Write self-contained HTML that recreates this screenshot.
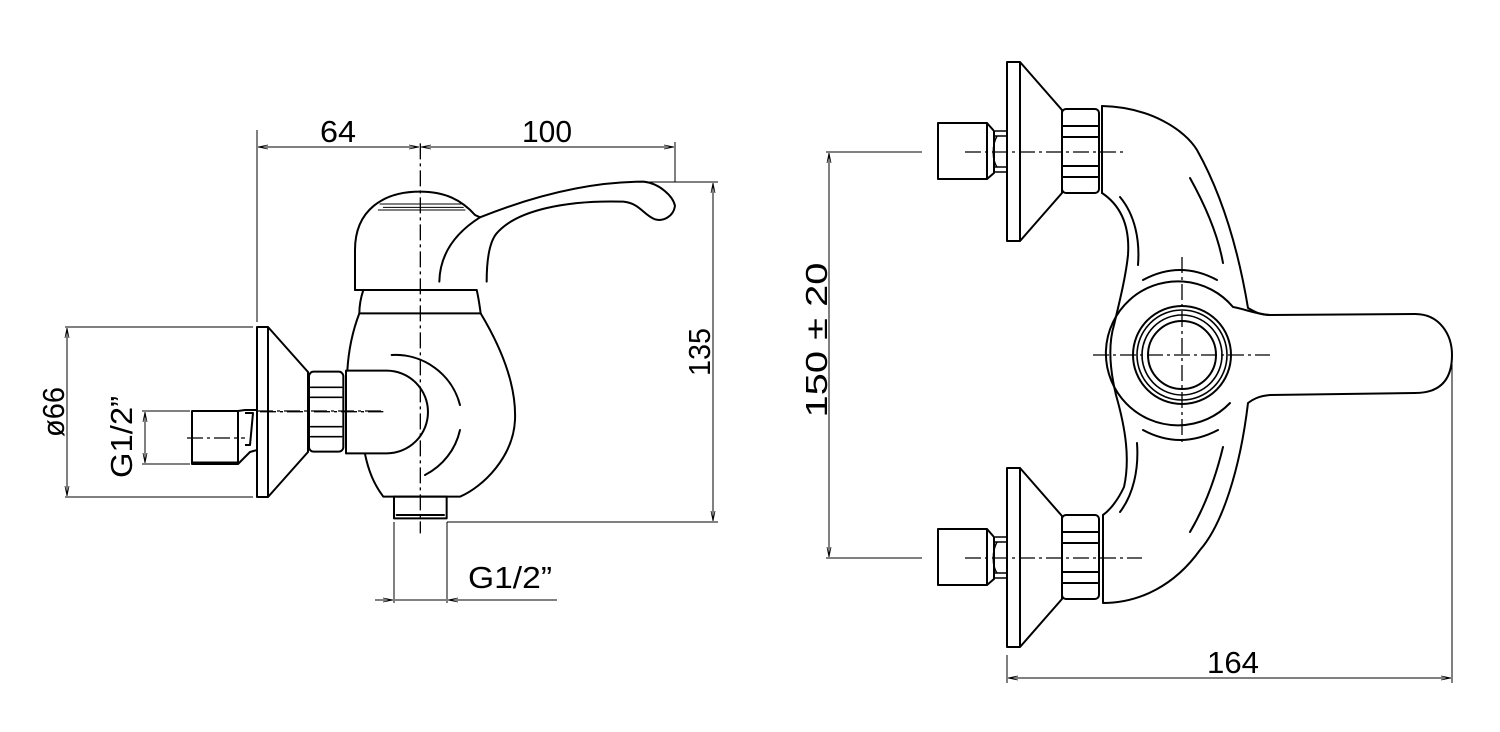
<!DOCTYPE html>
<html><head><meta charset="utf-8"><style>
html,body{margin:0;padding:0;background:#fff;width:1500px;height:732px;overflow:hidden}
svg{display:block}
text{font-family:"Liberation Sans",sans-serif;fill:#000}
</style></head><body>
<svg width="1500" height="732" viewBox="0 0 1500 732" xmlns="http://www.w3.org/2000/svg">
<defs>
<marker id="a" markerWidth="10" markerHeight="6" refX="10" refY="3" orient="auto-start-reverse" markerUnits="userSpaceOnUse">
<path d="M0,1 L10,3 L0,5" fill="none" stroke="#000" stroke-width="0.8"/></marker>
</defs>
<g fill="none" stroke="#000" stroke-width="1">
<!-- LEFT VIEW DIMENSIONS -->
<line x1="257" y1="130" x2="257" y2="322"/>
<line x1="675" y1="142" x2="675" y2="182"/>
<line x1="258" y1="147" x2="419" y2="147" marker-start="url(#a)" marker-end="url(#a)"/>
<line x1="421" y1="147" x2="674" y2="147" marker-start="url(#a)" marker-end="url(#a)"/>
<line x1="643" y1="182" x2="718" y2="182"/>
<line x1="447" y1="522" x2="718" y2="522"/>
<line x1="713" y1="183" x2="713" y2="521" marker-start="url(#a)" marker-end="url(#a)"/>
<line x1="65" y1="327" x2="253" y2="327"/>
<line x1="65" y1="497" x2="253" y2="497"/>
<line x1="67" y1="328" x2="67" y2="496" marker-start="url(#a)" marker-end="url(#a)"/>
<line x1="142" y1="411" x2="190" y2="411"/>
<line x1="142" y1="464" x2="190" y2="464"/>
<line x1="145" y1="412" x2="145" y2="463" marker-start="url(#a)" marker-end="url(#a)"/>
<line x1="394" y1="522" x2="394" y2="603"/>
<line x1="447" y1="522" x2="447" y2="603"/>
<line x1="375" y1="600" x2="393" y2="600" marker-end="url(#a)"/>
<line x1="395" y1="600" x2="446" y2="600"/>
<line x1="557" y1="600" x2="448" y2="600" marker-end="url(#a)"/>
<!-- RIGHT VIEW DIMENSIONS -->
<line x1="826" y1="152" x2="922" y2="152"/>
<line x1="826" y1="558" x2="922" y2="558"/>
<line x1="829" y1="153" x2="829" y2="557" marker-start="url(#a)" marker-end="url(#a)"/>
<line x1="1007" y1="655" x2="1007" y2="683"/>
<line x1="1452" y1="355" x2="1452" y2="683"/>
<line x1="1008" y1="678" x2="1451" y2="678" marker-start="url(#a)" marker-end="url(#a)"/>
</g>

<!-- LEFT VIEW: wall flange + pipe (real coords) -->
<g fill="none" stroke="#000" stroke-width="2" stroke-linejoin="round">
<rect x="257" y="327" width="11" height="170"/>
<path d="M268,327 L308,372 L308,452 L268,497"/>
<rect x="192" y="411" width="46" height="53"/>
<path d="M238,411 L245,410 L257,410 M245,413 L253,413 L250,445 L245,445 M238,464 L250,452 L257,450"/>
<line x1="192" y1="463" x2="238" y2="463" stroke-width="3"/>
</g>
<g stroke="#000" stroke-width="1.3" stroke-dasharray="16 4 3 4" fill="none">
<line x1="257" y1="411" x2="383" y2="411"/>
<line x1="187" y1="438" x2="245" y2="438"/>
</g>

<!-- LEFT VIEW body in zoom coords -->
<g transform="translate(240,100) scale(0.33333)" fill="none" stroke="#000" stroke-width="6" stroke-linejoin="round" stroke-linecap="round">
<path d="M345,570 L345,450 C345,330 430,275 540,275 C615,275 665,300 705,345 L720,352 C800,320 1000,245 1210,245 C1260,250 1300,290 1305,318 C1300,350 1270,365 1245,358 C1210,345 1200,310 1150,305 C980,300 830,330 770,400 C745,430 740,490 740,545"/>
<path d="M598,545 C600,450 660,390 720,352"/>
<line x1="345" y1="570" x2="710" y2="570"/>
<path d="M420,312 L665,312 M430,322 L670,322 M415,330 L675,330" stroke-width="3"/>
<path d="M370,570 C360,600 358,620 358,640 L722,640 C718,610 715,590 710,570"/>
<path d="M358,640 C335,700 325,760 322,812"/>
<path d="M722,640 C770,720 830,840 825,960 C820,1070 730,1160 660,1190 L430,1190 C400,1150 385,1110 375,1062"/>
<path d="M318,812 L440,812 A124,124 0 0 1 440,1060 L318,1060 Z"/>
<rect x="207" y="815" width="103" height="240" rx="14"/>
<path d="M212,862 L305,862 M212,892 L305,892 M212,980 L305,980 M212,1010 L305,1010" stroke-width="5"/>
<rect x="462" y="1190" width="158" height="65"/>
<line x1="470" y1="1245" x2="612" y2="1245"/>
<path d="M455,765 A200,200 0 0 1 660,915"/>
<path d="M660,990 A200,200 0 0 1 555,1125"/>
<line x1="541" y1="130" x2="541" y2="1300" stroke-width="4" stroke-dasharray="48 12 9 12" stroke-linecap="butt"/>
<line x1="60" y1="935" x2="430" y2="935" stroke-width="4" stroke-dasharray="48 12 9 12" stroke-linecap="butt"/>
</g>

<!-- RIGHT VIEW inlets -->
<g id="inl" fill="none" stroke="#000" stroke-width="2" stroke-linejoin="round">
<rect x="938" y="123" width="49" height="56"/>
<path d="M987,123 L994,131 L994,173 L987,179"/>
<path d="M995,131 L1007,131 M995,136 L1007,136 M995,167 L1007,167 M995,172 L1007,172" stroke-width="1.5"/>
<path d="M997,136 C992,145 992,160 997,167" stroke-width="1.5"/>
<rect x="1007" y="62" width="13" height="179"/>
<path d="M1020,62 L1062,110 L1062,193 L1020,241"/>
<rect x="1062" y="109" width="37" height="84" rx="4"/>
<path d="M1063,126 L1098,126 M1063,137 L1098,137 M1063,166 L1098,166 M1063,177 L1098,177"/>
</g>
<use href="#inl" transform="translate(0,406)"/>
<g stroke="#000" stroke-width="1.3" stroke-dasharray="16 4 3 4" fill="none">
<line x1="965" y1="152" x2="1125" y2="152"/>
<line x1="965" y1="558" x2="1142" y2="558"/>
<line x1="1093" y1="355" x2="1270" y2="355"/>
<line x1="1182" y1="257" x2="1182" y2="442"/>
</g>
<line x1="880" y1="152" x2="920" y2="152" stroke="#000" stroke-width="1"/>

<!-- RIGHT VIEW body -->
<g fill="none" stroke="#000" stroke-width="2" stroke-linejoin="round" stroke-linecap="round">
<path d="M1102,106 C1150,107 1185,130 1197,150 C1225,200 1240,260 1248,308 C1255,312 1260,315 1270,315 L1415,314 C1440,314 1452,335 1452,355 C1452,380 1440,393 1415,393 L1270,395 C1258,396 1252,400 1248,403 C1240,470 1222,525 1200,550 C1175,585 1140,603 1103,603 L1103,515"/>
<line x1="1102" y1="106" x2="1102" y2="193"/>
<path d="M1102,193 C1120,205 1130,225 1128,255 C1126,275 1120,300 1114,325 C1108,345 1110,370 1116,395 C1126,430 1130,460 1124,487 C1118,500 1110,510 1103,515"/>
<path d="M1230,403 A72,72 0 1 1 1233,307 C1245,309 1255,314 1270,315"/>
<circle cx="1182" cy="355" r="49"/>
<circle cx="1182" cy="355" r="45" stroke-width="1.6"/>
<circle cx="1182" cy="355" r="40" stroke-width="1.6"/>
<circle cx="1182" cy="355" r="34"/>
<path d="M1143,280 Q1180,260 1217,280"/>
<path d="M1143,430 Q1180,450 1218,430"/>
<path d="M1120,197 C1135,215 1140,240 1138,265"/>
<path d="M1190,178 C1205,205 1218,235 1223,263"/>
<path d="M1137,443 C1139,470 1133,495 1120,512"/>
<path d="M1223,447 C1215,480 1203,510 1190,532"/>
</g>

<!-- TEXT -->
<g font-size="31">
<text x="338" y="142" text-anchor="middle" textLength="36" lengthAdjust="spacingAndGlyphs">64</text>
<text x="547" y="142" text-anchor="middle" textLength="50" lengthAdjust="spacingAndGlyphs">100</text>
<text transform="translate(710,352) rotate(-90)" text-anchor="middle" textLength="48" lengthAdjust="spacingAndGlyphs">135</text>
<text transform="translate(64,412) rotate(-90)" text-anchor="middle" textLength="50" lengthAdjust="spacingAndGlyphs">ø66</text>
<text transform="translate(132,437) rotate(-90)" text-anchor="middle" textLength="82" lengthAdjust="spacingAndGlyphs">G1/2”</text>
<text x="510" y="588" text-anchor="middle" textLength="84" lengthAdjust="spacingAndGlyphs">G1/2”</text>
<text transform="translate(827,340) rotate(-90)" text-anchor="middle" textLength="155" lengthAdjust="spacingAndGlyphs">150 ± 20</text>
<text x="1233" y="673" text-anchor="middle" textLength="52" lengthAdjust="spacingAndGlyphs">164</text>
</g>
</svg>
</body></html>
